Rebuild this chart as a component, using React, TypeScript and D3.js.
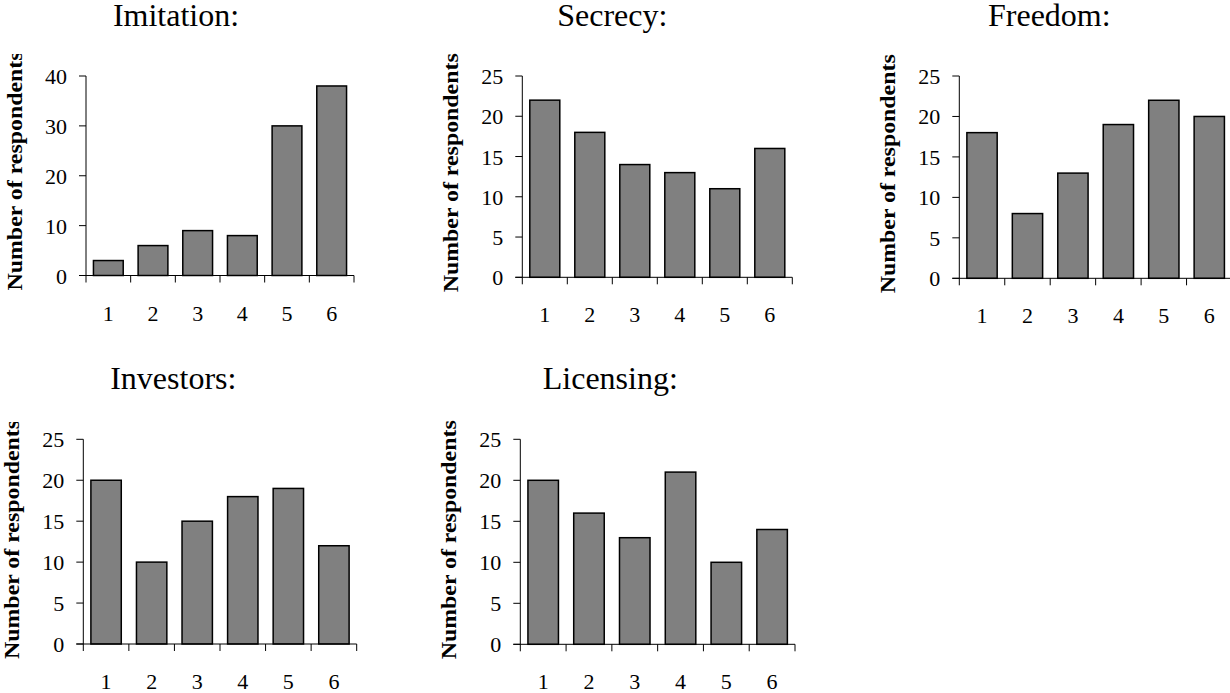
import React from "react";
import * as d3 from "d3";

// ---- data ----
const categories = ["1", "2", "3", "4", "5", "6"];
const titles = ["Imitation:", "Secrecy:", "Freedom:", "Investors:", "Licensing:"];
const imitationValues = [3, 6, 9, 8, 30, 38];
const secrecyValues = [22, 18, 14, 13, 11, 16];
const freedomValues = [18, 8, 13, 19, 22, 20];
const investorsValues = [20, 10, 15, 18, 19, 12];
const licensingValues = [20, 16, 13, 21, 10, 14];
const imitationTicks = [0, 10, 20, 30, 40];
const otherTicks = [0, 5, 10, 15, 20, 25];
const yAxisLabel = "Number of respondents";

const seriesList = [imitationValues, secrecyValues, freedomValues, investorsValues, licensingValues];
const tickList = [imitationTicks, otherTicks, otherTicks, otherTicks, otherTicks];

// ---- layout (positions only) ----
const layouts = [
  { x0: 86, x1: 354, yTop: 76, yZero: 275.5, titleY: 26, clipTop: 54 },
  { x0: 522.3, x1: 792.3, yTop: 76, yZero: 277.3, titleY: 26, clipTop: 30 },
  { x0: 959.3, x1: 1232, yTop: 76, yZero: 278.3, titleY: 26, clipTop: 30 },
  { x0: 83.3, x1: 356.7, yTop: 439.3, yZero: 644, titleY: 389, clipTop: 422 },
  { x0: 520.3, x1: 795, yTop: 439.3, yZero: 644.3, titleY: 389, clipTop: 390 },
];

const FONT = "'Liberation Serif', 'Times New Roman', Times, serif";

function Panel({ idx }: { idx: number }) {
  const L = layouts[idx];
  const values = seriesList[idx];
  const ticks = tickList[idx];
  const yMax = ticks[ticks.length - 1];
  const x = d3.scaleBand<string>().domain(categories).range([L.x0, L.x1]).paddingInner(1 / 3).paddingOuter(1 / 6);
  const y = d3.scaleLinear().domain([0, yMax]).range([L.yZero, L.yTop]);
  const step = x.step();
  const boundaries = d3.range(categories.length + 1).map((i) => L.x0 + i * step);
  const labelX = L.x0 - 64;
  const labelStart = L.yZero + 15;
  const clipId = `clip-${idx}`;
  return (
    <g>
      <defs>
        <clipPath id={clipId}>
          <rect x={L.x0 - 120} y={L.clipTop} width={120} height={400} />
        </clipPath>
      </defs>
      <text x={L.x0 + 90} y={L.titleY} textAnchor="middle" fontFamily={FONT} fontSize={32} fill="#000">
        {titles[idx]}
      </text>
      <g clipPath={`url(#${clipId})`}>
        <text
          transform={`translate(${labelX},${labelStart}) rotate(-90)`}
          textAnchor="start"
          fontFamily={FONT}
          fontWeight="bold"
          fontSize={21.5}
          textLength={239}
          lengthAdjust="spacingAndGlyphs"
          fill="#000"
        >
          {yAxisLabel}
        </text>
      </g>
      {values.map((v, i) => (
        <rect
          key={i}
          x={x(categories[i])}
          y={y(v)}
          width={x.bandwidth()}
          height={L.yZero - y(v)}
          fill="#808080"
          stroke="#000"
          strokeWidth={1.5}
        />
      ))}
      {/* y axis */}
      <line x1={L.x0} x2={L.x0} y1={L.yTop} y2={L.yZero} stroke="#000" strokeWidth={1} />
      {ticks.map((t) => (
        <g key={t}>
          <line x1={L.x0 - 7} x2={L.x0} y1={y(t)} y2={y(t)} stroke="#000" strokeWidth={1} />
          <text
            x={L.x0 - 19}
            y={y(t) + 8}
            textAnchor="end"
            fontFamily={FONT}
            fontSize={22}
            fill="#000"
          >
            {t}
          </text>
        </g>
      ))}
      {/* x axis */}
      <line x1={L.x0 - 7} x2={L.x1} y1={L.yZero} y2={L.yZero} stroke="#000" strokeWidth={1} />
      {boundaries.map((bx, i) => (
        <line key={i} x1={bx} x2={bx} y1={L.yZero} y2={L.yZero + 7} stroke="#000" strokeWidth={1} />
      ))}
      {categories.map((c) => (
        <text
          key={c}
          x={(x(c) as number) + x.bandwidth() / 2}
          y={L.yZero + 45}
          textAnchor="middle"
          fontFamily={FONT}
          fontSize={22}
          fill="#000"
        >
          {c}
        </text>
      ))}
    </g>
  );
}

export default function App() {
  return (
    <svg
      width={1230}
      height={693}
      viewBox="0 0 1230 693"
      style={{ position: "absolute", left: 0, top: 0, background: "#fff" }}
    >
      <rect x={0} y={0} width={1230} height={693} fill="#fff" />
      {layouts.map((_, i) => (
        <Panel key={i} idx={i} />
      ))}
    </svg>
  );
}
